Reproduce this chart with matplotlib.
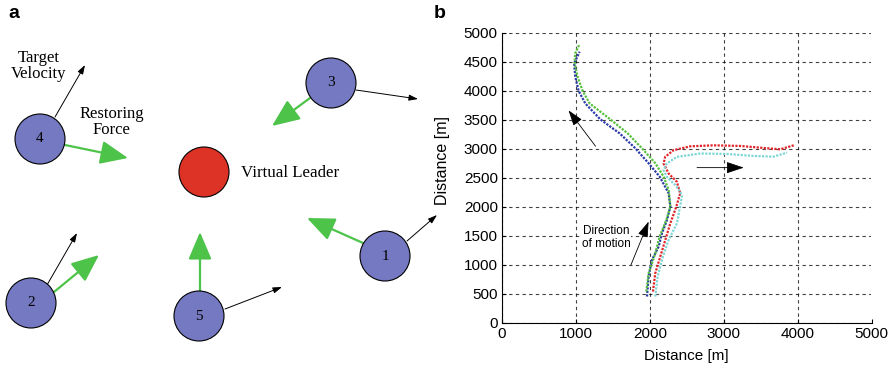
import matplotlib
matplotlib.use("Agg")
import matplotlib.pyplot as plt
from matplotlib.patches import Circle

# ---------------- Panel a: schematic (pixel coordinates) ----------------
agent_ids = ["1", "2", "3", "4", "5"]
agent_x = [385, 31, 331, 40, 199]
agent_y = [256, 303, 83, 139, 316]
agent_r = 25
leader_xy = (204, 172)

# target velocity arrows (start -> end)
vel_start = [(407, 241), (47, 285), (356, 90), (55, 117), (225, 309)]
vel_end = [(437, 215), (77, 233), (418, 99), (85, 65), (282, 287)]
# restoring force arrows (start -> end)
force_start = [(363, 243), (54, 292), (310, 98), (65, 145), (200, 291)]
force_end = [(307, 218), (99, 255), (272, 126), (128, 158), (200, 232)]

# ---------------- Panel b: trajectories ----------------
blue_x = [1962, 1984, 2029, 2120, 2165, 2233, 2278, 2255, 2133, 1984, 1804, 1591, 1330, 1126, 1036, 991, 977, 1050]
blue_y = [448, 793, 1080, 1310, 1540, 1770, 2000, 2230, 2517, 2747, 3006, 3264, 3505, 3781, 4000, 4241, 4471, 4672]
green_x = [1953, 1984, 2075, 2133, 2224, 2278, 2255, 2187, 2075, 1894, 1700, 1465, 1185, 1090, 1023, 982, 991, 1050]
green_y = [534, 851, 1195, 1483, 1770, 2000, 2287, 2517, 2747, 3006, 3264, 3505, 3781, 4000, 4241, 4471, 4644, 4804]
red_x = [2043, 2074, 2142, 2210, 2278, 2359, 2411, 2366, 2254, 2186, 2208, 2321, 2549, 2865, 3226, 3587, 3767, 3948]
red_y = [534, 850, 1138, 1425, 1713, 2000, 2229, 2428, 2572, 2744, 2858, 2973, 3040, 3057, 3046, 3006, 2989, 3057]
cyan_x = [2074, 2106, 2178, 2255, 2368, 2434, 2413, 2344, 2231, 2186, 2231, 2366, 2684, 3045, 3406, 3677, 3858]
cyan_y = [448, 793, 1138, 1425, 1713, 2170, 2260, 2371, 2514, 2629, 2744, 2858, 2916, 2908, 2873, 2862, 2931]
ticks = [0, 1000, 2000, 3000, 4000, 5000]
yticks = [0, 500, 1000, 1500, 2000, 2500, 3000, 3500, 4000, 4500, 5000]

fig = plt.figure(figsize=(8.95, 3.72), dpi=100)

# ---- panel a ----
axa = fig.add_axes([0, 0, 430 / 895, 1])
axa.set_xlim(0, 430)
axa.set_ylim(372, 0)
axa.axis("off")
serif = "Liberation Serif"
for s, e in zip(vel_start, vel_end):
    axa.annotate("", xy=e, xytext=s,
                 arrowprops=dict(arrowstyle="-|>,head_length=0.9,head_width=0.3",
                                 mutation_scale=6, color="black", lw=0.7,
                                 shrinkA=0, shrinkB=0), annotation_clip=False)
for s, e in zip(force_start, force_end):
    axa.annotate("", xy=e, xytext=s,
                 arrowprops=dict(arrowstyle="-|>,head_length=0.85,head_width=0.36",
                                 mutation_scale=20, color="#4dc34a", lw=1.6,
                                 shrinkA=0, shrinkB=0))
for lab, x, y in zip(agent_ids, agent_x, agent_y):
    axa.add_patch(Circle((x, y), agent_r, facecolor="#7479c2", edgecolor="black", lw=0.8, zorder=3))
    axa.text(x, y, lab, ha="center", va="center", fontsize=11, family=serif, zorder=4)
axa.add_patch(Circle(leader_xy, agent_r, facecolor="#dd3326", edgecolor="black", lw=0.8, zorder=3))
axa.text(241, 173, "Virtual Leader", ha="left", va="center", fontsize=12.2, family=serif)
axa.text(39, 66, "Target\nVelocity", ha="center", va="center", fontsize=12, family=serif,
         linespacing=1.0)
axa.text(111.5, 122, "Restoring\nForce", ha="center", va="center", fontsize=12, family=serif,
         linespacing=1.0)
fig.text(8 / 895, 1 - 14 / 372, "a", fontsize=14, fontweight="bold", va="center",
         family="Liberation Sans")
fig.text(434 / 895, 1 - 14 / 372, "b", fontsize=14, fontweight="bold", va="center",
         family="Liberation Sans")

# ---- panel b ----
axb = fig.add_axes([502 / 895, 1 - 322.5 / 372, (871.5 - 502) / 895, (322.5 - 32.7) / 372])
dot = dict(ls=(0, (1, 0.6)), lw=1.6)
axb.plot(blue_x, blue_y, color="#2a3aa8", **dot)
axb.plot(green_x, green_y, color="#55c03c", **dot)
axb.plot(red_x, red_y, color="#e0242a", **dot)
axb.plot(cyan_x, cyan_y, color="#7fd6d6", **dot)
axb.set_xlim(0, 5000)
axb.set_ylim(0, 5000)
axb.set_xticks(ticks)
axb.set_yticks(yticks)
axb.grid(True, color="black", ls=(0, (3, 3)), lw=0.8, alpha=0.75)
for sp in ["top", "right"]:
    axb.spines[sp].set_visible(False)
axb.tick_params(direction="in", length=3, labelsize=11, width=0.8, pad=3)
for lbl in axb.get_xticklabels() + axb.get_yticklabels():
    lbl.set_family("Liberation Sans")
axb.set_xlabel("Distance [m]", fontsize=11, family="Liberation Sans", labelpad=6)
axb.set_ylabel("Distance [m]", fontsize=11.5, family="Liberation Sans")
axb.yaxis.set_label_coords(-0.141, 0.56)

axb.annotate("", xy=(900, 3660), xytext=(1266, 3041),
             arrowprops=dict(arrowstyle="-|>,head_length=1.2,head_width=0.4",
                             mutation_scale=8, color="black", lw=0.6, shrinkA=0, shrinkB=0))
axb.annotate("", xy=(3271, 2672), xytext=(2639, 2672),
             arrowprops=dict(arrowstyle="-|>,head_length=1.2,head_width=0.4",
                             mutation_scale=9, color="black", lw=0.6, shrinkA=0, shrinkB=0))
axb.annotate("", xy=(1984, 1741), xytext=(1745, 994),
             arrowprops=dict(arrowstyle="-|>,head_length=1.2,head_width=0.4",
                             mutation_scale=8, color="black", lw=0.6, shrinkA=0, shrinkB=0))
axb.text(1406, 1460, "Direction\nof motion", ha="center", va="center", fontsize=8.5,
         family="Liberation Sans", linespacing=1.1,
         bbox=dict(facecolor="white", edgecolor="none", pad=0.5))

fig.savefig("out.png", dpi=100)
